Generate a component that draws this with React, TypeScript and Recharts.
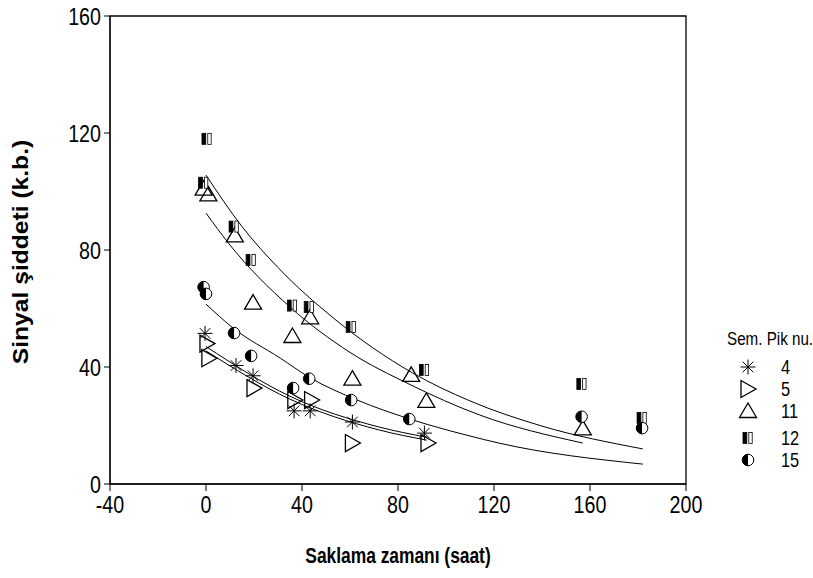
import React from 'react';
import { ComposedChart, XAxis, YAxis, Scatter, Line, ReferenceArea } from 'recharts';

if (typeof document !== 'undefined') document.body.style.margin = '0';

const xTicks = [-40, 0, 40, 80, 120, 160, 200];
const yTicks = [0, 40, 80, 120, 160];

const pik4 = [
  { x: -0.4, y: 51.5 }, { x: 12.5, y: 40.5 }, { x: 19.6, y: 37 },
  { x: 36.7, y: 25 }, { x: 43.4, y: 25 }, { x: 61, y: 21.2 }, { x: 91, y: 17.4 },
];
const pik5 = [
  { x: 0.4, y: 48 }, { x: 1.2, y: 43 }, { x: 20, y: 32.8 },
  { x: 37, y: 28.7 }, { x: 44, y: 28.7 }, { x: 61, y: 14 }, { x: 92.5, y: 14 },
];
const pik11 = [
  { x: -1, y: 101 }, { x: 1, y: 99 }, { x: 12, y: 85 }, { x: 19.6, y: 62 },
  { x: 36, y: 50.6 }, { x: 43.4, y: 57 }, { x: 61, y: 36 }, { x: 85.5, y: 37.3 },
  { x: 91.8, y: 28.4 }, { x: 157, y: 19 },
];
const pik12 = [
  { x: 0.4, y: 118 }, { x: -1, y: 103 }, { x: 11.7, y: 88 }, { x: 18.8, y: 76.6 },
  { x: 36, y: 61 }, { x: 43, y: 60.5 }, { x: 60.5, y: 53.7 }, { x: 91, y: 39 },
  { x: 156.6, y: 34.2 }, { x: 181.7, y: 22.6 },
];
const pik15 = [
  { x: -1, y: 67.3 }, { x: 0, y: 65 }, { x: 11.7, y: 51.6 }, { x: 18.8, y: 43.8 },
  { x: 36.3, y: 32.8 }, { x: 43, y: 36 }, { x: 60.5, y: 28.7 }, { x: 84.7, y: 22.2 },
  { x: 156.5, y: 23 }, { x: 181.7, y: 19.1 },
];

const fit12 = [
  { x: 0, y: 105.6 }, { x: 15, y: 88 }, { x: 30, y: 74 }, { x: 53, y: 56.8 },
  { x: 86, y: 38 }, { x: 110, y: 28.4 }, { x: 140, y: 19.8 }, { x: 182, y: 12 },
];
const fit11 = [
  { x: 0, y: 92.6 }, { x: 9.3, y: 82.4 }, { x: 35, y: 60.5 }, { x: 60, y: 45 },
  { x: 85, y: 34 }, { x: 114, y: 23.6 }, { x: 157, y: 14 },
];
const fit15 = [
  { x: 0, y: 61.5 }, { x: 11, y: 53.5 }, { x: 31, y: 43 }, { x: 43, y: 36.5 },
  { x: 63, y: 28.7 }, { x: 85, y: 22.2 }, { x: 110, y: 16.4 }, { x: 122, y: 14 },
  { x: 182, y: 6.8 },
];
const fit4 = [
  { x: 0, y: 47 }, { x: 35, y: 30 }, { x: 72, y: 19.5 }, { x: 92, y: 16 },
];
const fit5 = [
  { x: 0, y: 45.5 }, { x: 35, y: 29 }, { x: 72, y: 18.5 }, { x: 92, y: 15 },
];

const xTitle = 'Saklama zamanı (saat)';
const yTitle = 'Sinyal şiddeti (k.b.)';
const legendTitle = 'Sem. Pik nu.';
const legendLabels = ['4', '5', '11', '12', '15'];

const FONT = '"Liberation Sans", Arial, sans-serif';
const SX = 0.82;

const XTick = ({ x, y, payload }: any) => (
  <text transform={`translate(${x},${y}) scale(${SX},1)`} textAnchor="middle" dy="0.72em" fontSize={24} fontFamily={FONT} fill="#000">
    {payload.value}
  </text>
);
const YTick = ({ x, y, payload }: any) => (
  <text transform={`translate(${x},${y}) scale(${SX},1)`} textAnchor="end" dy="0.36em" fontSize={24} fontFamily={FONT} fill="#000">
    {payload.value}
  </text>
);

const Asterisk = ({ cx, cy }: any) => {
  const r = 7.5;
  const d = r * 0.7071;
  return (
    <g stroke="#000" strokeWidth={1}>
      <line x1={cx} y1={cy - r} x2={cx} y2={cy + r} />
      <line x1={cx - r} y1={cy} x2={cx + r} y2={cy} />
      <line x1={cx - d} y1={cy - d} x2={cx + d} y2={cy + d} />
      <line x1={cx - d} y1={cy + d} x2={cx + d} y2={cy - d} />
    </g>
  );
};
const TriRight = ({ cx, cy }: any) => (
  <polygon points={`${cx - 7},${cy - 8.5} ${cx - 7},${cy + 8.5} ${cx + 8},${cy}`} fill="none" stroke="#000" strokeWidth={1.3} />
);
const TriUp = ({ cx, cy }: any) => (
  <polygon points={`${cx},${cy - 8} ${cx + 8.5},${cy + 6.5} ${cx - 8.5},${cy + 6.5}`} fill="none" stroke="#000" strokeWidth={1.3} />
);
const Bars = ({ cx, cy }: any) => (
  <g>
    <rect x={cx - 5} y={cy - 5.5} width={3.8} height={11} fill="#000" stroke="#000" strokeWidth={0.8} />
    <rect x={cx + 0.8} y={cy - 5.5} width={3.4} height={11} fill="#fff" stroke="#000" strokeWidth={0.8} />
  </g>
);
const HalfCircle = ({ cx, cy }: any) => {
  const r = 5.8;
  return (
    <g>
      <circle cx={cx} cy={cy} r={r} fill="#fff" stroke="#000" strokeWidth={1} />
      <path d={`M ${cx} ${cy - r} A ${r} ${r} 0 0 0 ${cx} ${cy + r} Z`} fill="#000" />
    </g>
  );
};

const shapes = [Asterisk, TriRight, TriUp, Bars, HalfCircle];
const legendRowsY = [367, 389, 411, 438, 460];

export default function App() {
  return (
    <div style={{ position: 'relative', width: 813, height: 578, fontFamily: FONT }}>
      <ComposedChart width={813} height={578} margin={{ top: 16, right: 127, bottom: 0, left: 0 }}>
        <XAxis
          type="number"
          dataKey="x"
          domain={[-40, 200]}
          ticks={xTicks}
          allowDataOverflow
          height={94}
          tickSize={7}
          tickMargin={5}
          stroke="#000"
          tick={<XTick />}
        />
        <YAxis
          type="number"
          dataKey="y"
          domain={[0, 160]}
          ticks={yTicks}
          allowDataOverflow
          width={110}
          tickSize={6}
          tickMargin={3}
          stroke="#000"
          tick={<YTick />}
        />
        <ReferenceArea x1={-40} x2={200} y1={0} y2={160} fill="none" stroke="#000" strokeWidth={1.3} ifOverflow="visible" />
        <Line data={fit12} dataKey="y" type="monotone" dot={false} stroke="#000" strokeWidth={1} isAnimationActive={false} />
        <Line data={fit11} dataKey="y" type="monotone" dot={false} stroke="#000" strokeWidth={1} isAnimationActive={false} />
        <Line data={fit15} dataKey="y" type="monotone" dot={false} stroke="#000" strokeWidth={1} isAnimationActive={false} />
        <Line data={fit4} dataKey="y" type="monotone" dot={false} stroke="#000" strokeWidth={1} isAnimationActive={false} />
        <Line data={fit5} dataKey="y" type="monotone" dot={false} stroke="#000" strokeWidth={1} isAnimationActive={false} />
        <Scatter data={pik4} shape={Asterisk} isAnimationActive={false} />
        <Scatter data={pik5} shape={TriRight} isAnimationActive={false} />
        <Scatter data={pik11} shape={TriUp} isAnimationActive={false} />
        <Scatter data={pik12} shape={Bars} isAnimationActive={false} />
        <Scatter data={pik15} shape={HalfCircle} isAnimationActive={false} />
      </ComposedChart>
      <svg width={813} height={578} style={{ position: 'absolute', left: 0, top: 0, pointerEvents: 'none' }}>
        <text transform={`translate(398,563) scale(0.79,1)`} textAnchor="middle" fontSize={22} fontWeight="bold" fontFamily={FONT} fill="#000">{xTitle}</text>
        <text transform={`translate(28,252) rotate(-90) scale(1.12,1)`} textAnchor="middle" fontSize={22} fontWeight="bold" fontFamily={FONT} fill="#000">{yTitle}</text>
        <text transform={`translate(727,345) scale(0.8,1)`} fontSize={19} fontFamily={FONT} fill="#000">{legendTitle}</text>
        {legendLabels.map((lab, i) => {
          const S = shapes[i];
          return (
            <g key={lab}>
              <S cx={748} cy={legendRowsY[i]} />
              <text transform={`translate(781,${legendRowsY[i] + 7}) scale(0.82,1)`} fontSize={20} fontFamily={FONT} fill="#000">{lab}</text>
            </g>
          );
        })}
      </svg>
    </div>
  );
}
